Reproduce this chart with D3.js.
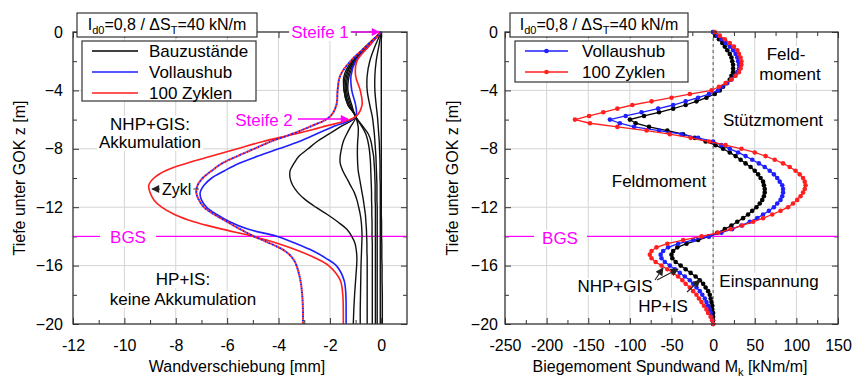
<!DOCTYPE html>
<html>
<head>
<meta charset="utf-8">
<script src="https://cdn.jsdelivr.net/npm/d3@7"></script>
<style>
  body { margin: 0; background: #fff; }
  text { font-family: "Liberation Sans", Arial, sans-serif; fill: #000; }
</style>
</head>
<body>
<svg id="chart" width="854" height="378"></svg>
<script>
'use strict';

// ---- left panel: wall displacement [mm] over depth [m] ----
var zLeft = [0, -1, -2, -3, -4, -5, -5.8, -6.5, -7, -7.5, -8, -8.5, -9, -9.5, -10, -10.5,
  -11, -11.5, -12, -12.5, -13, -13.5, -14, -14.5, -15, -15.5, -16, -17, -18, -19, -20];

var uVollaushub = [0, -0.5, -1.0, -1.18, -1.15, -1.0, -1.0, -1.9, -2.55, -3.2, -4.0, -4.8, -5.55, -6.1, -6.6, -6.9,
  -7.05, -7.0, -6.8, -6.4, -5.9, -5.2, -4.05, -3.3, -2.65, -2.15, -1.75, -1.45, -1.38, -1.37, -1.37];

var uZyklen = [0, -0.5, -0.95, -1.0, -0.82, -0.75, -1.0, -2.3, -3.4, -4.6, -5.6, -6.6, -7.6, -8.4, -8.85, -9.05,
  -9.0, -8.85, -8.55, -8.05, -7.3, -6.2, -5.0, -4.0, -3.2, -2.55, -2.05, -1.6, -1.5, -1.48, -1.48];

// dotted curve (blue and red on top of each other)
var uGestrichelt = [0, -0.6, -1.2, -1.6, -1.7, -1.75, -2.0, -2.8, -3.5, -4.3, -4.95, -5.6, -6.2, -6.6, -6.95, -7.15,
  -7.2, -7.1, -6.9, -6.5, -6.0, -5.5, -4.95, -4.3, -3.75, -3.45, -3.3, -3.15, -3.08, -3.05, -3.05];

var uBauzustaende = [
  [0, 0, 0, 0, 0, 0, 0, 0, 0, 0, 0, 0, 0, 0, 0, 0, 0, 0, 0, 0, 0.01, 0.01, 0.01, 0.02, 0.02, 0.02, 0.03, 0.03, 0.04, 0.04, 0.04],
  [0, -0.1, -0.2, -0.25, -0.25, -0.2, -0.15, -0.12, -0.1, -0.08, -0.07, -0.06, -0.05, -0.05, -0.05, -0.04,
    -0.04, -0.04, -0.04, -0.04, -0.04, -0.04, -0.04, -0.04, -0.04, -0.04, -0.04, -0.04, -0.04, -0.04, -0.04],
  [0, -0.25, -0.45, -0.55, -0.55, -0.45, -0.35, -0.3, -0.27, -0.25, -0.23, -0.21, -0.2, -0.19, -0.18, -0.17,
    -0.17, -0.17, -0.16, -0.16, -0.16, -0.16, -0.16, -0.16, -0.16, -0.16, -0.16, -0.16, -0.16, -0.16, -0.16],
  [0, -0.55, -1.0, -1.25, -1.3, -1.15, -1.0, -0.7, -0.5, -0.4, -0.35, -0.3, -0.28, -0.26, -0.25, -0.24,
    -0.24, -0.24, -0.23, -0.23, -0.23, -0.23, -0.23, -0.23, -0.23, -0.23, -0.23, -0.23, -0.23, -0.23, -0.23],
  [0, -0.55, -1.05, -1.3, -1.35, -1.2, -1.0, -0.75, -0.6, -0.52, -0.47, -0.44, -0.42, -0.41, -0.4, -0.39,
    -0.38, -0.38, -0.37, -0.37, -0.36, -0.36, -0.36, -0.35, -0.35, -0.35, -0.35, -0.35, -0.35, -0.35, -0.35],
  [0, -0.6, -1.1, -1.35, -1.4, -1.25, -1.0, -0.9, -0.9, -0.92, -0.93, -0.93, -0.92, -0.9, -0.85, -0.8,
    -0.75, -0.7, -0.66, -0.62, -0.6, -0.58, -0.57, -0.56, -0.56, -0.55, -0.55, -0.55, -0.55, -0.55, -0.55],
  [0, -0.6, -1.1, -1.4, -1.45, -1.3, -1.0, -1.2, -1.35, -1.48, -1.55, -1.6, -1.6, -1.5, -1.35, -1.2,
    -1.05, -0.95, -0.88, -0.82, -0.78, -0.76, -0.75, -0.76, -0.77, -0.78, -0.79, -0.8, -0.81, -0.82, -0.82],
  [0, -0.6, -1.15, -1.45, -1.45, -1.3, -1.0, -1.6, -2.05, -2.5, -2.85, -3.2, -3.4, -3.55, -3.55, -3.45,
    -3.25, -2.95, -2.55, -2.1, -1.7, -1.35, -1.15, -1.02, -0.97, -0.95, -0.96, -1.0, -1.04, -1.07, -1.09]
];

// ---- right panel: bending moment [kNm/m] over depth [m] ----
var zRight = [0, -0.25, -0.5, -0.75, -1, -1.25, -1.5, -1.75, -2, -2.25, -2.5, -2.75, -3, -3.25, -3.5, -3.75,
  -4, -4.25, -4.5, -4.75, -5, -5.25, -5.5, -5.75, -6, -6.25, -6.5, -6.75, -7, -7.25, -7.5, -7.75,
  -8, -8.25, -8.5, -8.75, -9, -9.25, -9.5, -9.75, -10, -10.25, -10.5, -10.75, -11, -11.25, -11.5, -11.75,
  -12, -12.25, -12.5, -12.75, -13, -13.25, -13.5, -13.75, -14, -14.25, -14.5, -14.75, -15, -15.25, -15.5, -15.75,
  -16, -16.25, -16.5, -16.75, -17, -17.25, -17.5, -17.75, -18, -18.25, -18.5, -18.75, -19, -19.25, -19.5, -19.75, -20];

var mBau = [0, 3, 7, 11, 14, 17, 20, 22, 23, 24, 24, 24, 22, 20, 16, 12,
  8, 2, -8, -20, -33, -48, -65, -83, -100, -93, -77, -55, -36, -22, -9, 3,
  12, 20, 27, 33, 39, 45, 50, 54, 57, 60, 61, 62, 62, 61, 59, 56,
  52, 47, 42, 36, 29, 22, 14, 5, -5, -18, -32, -43, -48, -50, -49, -45,
  -39, -33, -27, -21, -16, -12, -9, -6, -4, -3, -2, -1, -1, 0, 0, 0, 0];

var mVollaushub = [0, 5, 10, 15, 20, 24, 27, 29, 30, 31, 31, 29, 26, 22, 17, 11,
  6, -5, -18, -33, -48, -66, -86, -105, -124, -112, -95, -65, -38, -18, 0, 10,
  20, 30, 39, 47, 55, 62, 68, 73, 77, 80, 83, 84, 84, 83, 81, 77,
  73, 67, 60, 53, 44, 34, 23, 10, -5, -24, -42, -54, -60, -63, -62, -58,
  -52, -46, -40, -34, -28, -24, -20, -16, -13, -10, -8, -6, -4, -3, -2, -1, 0];

var mZyklen = [2, 8, 14, 20, 25, 29, 31, 33, 34, 34, 33, 31, 27, 22, 15, 7,
  -2, -28, -50, -74, -97, -115, -132, -149, -166, -148, -115, -80, -52, -27, -5, 15,
  34, 50, 63, 74, 84, 92, 99, 104, 108, 110, 111, 110, 108, 105, 101, 96,
  90, 81, 71, 60, 48, 35, 21, 6, -14, -36, -55, -68, -74, -76, -74, -69,
  -62, -55, -48, -42, -37, -33, -28, -24, -20, -17, -14, -11, -8, -6, -3, -1, 0];

var ticksLeftX = [-12, -10, -8, -6, -4, -2, 0];
var ticksRightX = [-250, -200, -150, -100, -50, 0, 50, 100, 150];
var ticksZ = [0, -4, -8, -12, -16, -20];

var BLUE = '#1f1fff', RED = '#ff1f1f', MAGENTA = '#ff00ff', GRID = '#d4d4d4';

var svg = d3.select('#chart');
var top0 = 32, bottom0 = 324;

var yZ = d3.scaleLinear().domain([0, -20]).range([top0, bottom0]);
var xL = d3.scaleLinear().domain([-12, 1]).range([73, 407]);
var xR = d3.scaleLinear().domain([-250, 150]).range([505, 838]);

var defs = svg.append('defs');
function addMarker(id, color) {
    defs.append('marker')
        .attr('id', id)
        .attr('viewBox', '0 0 10 10')
        .attr('refX', 9).attr('refY', 5)
        .attr('markerWidth', 9).attr('markerHeight', 8)
        .attr('markerUnits', 'userSpaceOnUse')
        .attr('orient', 'auto')
        .append('path')
        .attr('d', 'M0,0 L10,5 L0,10 z')
        .attr('fill', color);
}
addMarker('headM', MAGENTA);
addMarker('headK', '#222');

var drawFrame = function (x, majorX, minorX, labelPad) {
    var g = svg.append('g');
    var x0 = x.range()[0], x1 = x.range()[1];

    // grid
    g.selectAll('line.gx').data(majorX.filter(function (d) { return x(d) > x0 + 1 && x(d) < x1 - 1; }))
        .enter().append('line')
        .attr('x1', function (d) { return x(d); }).attr('x2', function (d) { return x(d); })
        .attr('y1', top0).attr('y2', bottom0)
        .attr('stroke', GRID).attr('stroke-width', 1);
    g.selectAll('line.gy').data([-4, -8, -12, -16])
        .enter().append('line')
        .attr('x1', x0).attr('x2', x1)
        .attr('y1', function (d) { return yZ(d); }).attr('y2', function (d) { return yZ(d); })
        .attr('stroke', GRID).attr('stroke-width', 1);

    var ax = svg.append('g').attr('class', 'axes');
    var minorZ = [-2, -6, -10, -14, -18];

    ax.append('g').attr('transform', 'translate(0,' + bottom0 + ')')
        .call(d3.axisBottom(x).tickValues(majorX).tickSizeInner(-6).tickSizeOuter(0).tickPadding(16)
            .tickFormat(function (d) { return d; }));
    ax.append('g').attr('transform', 'translate(0,' + bottom0 + ')')
        .call(d3.axisBottom(x).tickValues(minorX).tickSizeInner(-4).tickSizeOuter(0).tickFormat(''));
    ax.append('g').attr('transform', 'translate(0,' + top0 + ')')
        .call(d3.axisTop(x).tickValues(majorX).tickSizeInner(-6).tickSizeOuter(0).tickFormat(''));
    ax.append('g').attr('transform', 'translate(0,' + top0 + ')')
        .call(d3.axisTop(x).tickValues(minorX).tickSizeInner(-4).tickSizeOuter(0).tickFormat(''));

    ax.append('g').attr('transform', 'translate(' + x0 + ',0)')
        .call(d3.axisLeft(yZ).tickValues(ticksZ).tickSizeInner(-6).tickSizeOuter(0).tickPadding(labelPad));
    ax.append('g').attr('transform', 'translate(' + x0 + ',0)')
        .call(d3.axisLeft(yZ).tickValues(minorZ).tickSizeInner(-4).tickSizeOuter(0).tickFormat(''));
    ax.append('g').attr('transform', 'translate(' + x1 + ',0)')
        .call(d3.axisRight(yZ).tickValues(ticksZ).tickSizeInner(-6).tickSizeOuter(0).tickFormat(''));
    ax.append('g').attr('transform', 'translate(' + x1 + ',0)')
        .call(d3.axisRight(yZ).tickValues(minorZ).tickSizeInner(-4).tickSizeOuter(0).tickFormat(''));

    ax.selectAll('.domain').remove();
    ax.selectAll('.tick line').attr('stroke', '#333');
    ax.selectAll('.tick text').style('font-size', '16px').style('font-family', '"Liberation Sans", Arial, sans-serif').attr('fill', '#000');

    return ax;
};

var finishFrame = function (x) {
    var x0 = x.range()[0], x1 = x.range()[1];
    svg.append('rect')
        .attr('x', x0).attr('y', top0)
        .attr('width', x1 - x0).attr('height', bottom0 - top0)
        .attr('fill', 'none').attr('stroke', '#333').attr('stroke-width', 1.3);
};

// ---------- left panel ----------
var axL = drawFrame(xL, ticksLeftX, [-11, -9, -7, -5, -3, -1], 10);

var bgsLeft = svg.append('g');
bgsLeft.append('line').attr('x1', xL(-12)).attr('x2', 100).attr('y1', yZ(-14)).attr('y2', yZ(-14))
    .attr('stroke', MAGENTA).attr('stroke-width', 1.2);
bgsLeft.append('line').attr('x1', 156).attr('x2', xL(1)).attr('y1', yZ(-14)).attr('y2', yZ(-14))
    .attr('stroke', MAGENTA).attr('stroke-width', 1.2);

var lineL = d3.line()
    .x(function (d) { return xL(d[0]); })
    .y(function (d) { return yZ(d[1]); })
    .curve(d3.curveCatmullRom.alpha(0.5));

var pairs = function (u, z) { return u.map(function (v, i) { return [v, z[i]]; }); };

svg.append('g').selectAll('path').data(uBauzustaende).enter().append('path')
    .attr('d', function (d) { return lineL(pairs(d, zLeft)); })
    .attr('fill', 'none').attr('stroke', '#111').attr('stroke-width', 1.4);

svg.append('path').attr('d', lineL(pairs(uVollaushub, zLeft)))
    .attr('fill', 'none').attr('stroke', BLUE).attr('stroke-width', 1.6);
svg.append('path').attr('d', lineL(pairs(uZyklen, zLeft)))
    .attr('fill', 'none').attr('stroke', RED).attr('stroke-width', 1.6);
svg.append('path').attr('d', lineL(pairs(uGestrichelt, zLeft)))
    .attr('fill', 'none').attr('stroke', BLUE).attr('stroke-width', 2)
    .attr('stroke-dasharray', '2,2');
svg.append('path').attr('d', lineL(pairs(uGestrichelt, zLeft)))
    .attr('fill', 'none').attr('stroke', RED).attr('stroke-width', 2)
    .attr('stroke-dasharray', '2,2').attr('stroke-dashoffset', 2);

finishFrame(xL);

// ---------- right panel ----------
var axR = drawFrame(xR, ticksRightX, [-225, -175, -125, -75, -25, 25, 75, 125], 7);

svg.append('line').attr('x1', xR(0)).attr('x2', xR(0)).attr('y1', top0).attr('y2', bottom0)
    .attr('stroke', '#555').attr('stroke-width', 1).attr('stroke-dasharray', '3,3');

svg.append('line').attr('x1', xR(-250)).attr('x2', 534).attr('y1', yZ(-14)).attr('y2', yZ(-14))
    .attr('stroke', MAGENTA).attr('stroke-width', 1.2);
svg.append('line').attr('x1', 587).attr('x2', xR(150)).attr('y1', yZ(-14)).attr('y2', yZ(-14))
    .attr('stroke', MAGENTA).attr('stroke-width', 1.2);

var lineR = d3.line()
    .x(function (d) { return xR(d[0]); })
    .y(function (d) { return yZ(d[1]); });

var seriesR = [
    { name: 'Bauzustand', color: '#000', values: mBau },
    { name: 'Vollaushub', color: BLUE, values: mVollaushub },
    { name: '100 Zyklen', color: RED, values: mZyklen }
];

seriesR.forEach(function (s) {
    var pts = pairs(s.values, zRight);
    var g = svg.append('g');
    g.append('path').attr('d', lineR(pts))
        .attr('fill', 'none').attr('stroke', s.color).attr('stroke-width', 1.3);
    g.selectAll('circle').data(pts).enter().append('circle')
        .attr('cx', function (d) { return xR(d[0]); })
        .attr('cy', function (d) { return yZ(d[1]); })
        .attr('r', 2.3)
        .attr('fill', s.color);
});

finishFrame(xR);

// ---------- texts ----------
var txt = function (x, y, s, opts) {
    opts = opts || {};
    var t = svg.append('text')
        .attr('x', x).attr('y', y)
        .attr('text-anchor', opts.anchor || 'middle')
        .style('font-size', (opts.size || 16) + 'px')
        .style('fill', opts.color || '#000')
        .text(s);
    if (opts.bg) {
        // white box behind the label so grid and frame lines stop at the text
        var bb = t.node().getBBox();
        svg.insert('rect', function () { return t.node(); })
            .attr('x', bb.x - 2).attr('y', bb.y + 1)
            .attr('width', bb.width + 4).attr('height', bb.height - 2)
            .attr('fill', '#fff');
    }
    return t;
};

// axis titles
txt(237, 372, 'Wandverschiebung [mm]');
var tR = txt(670, 372, 'Biegemoment Spundwand M');
tR.append('tspan').attr('dy', 4).style('font-size', '11px').text('k');
tR.append('tspan').attr('dy', -4).text(' [kNm/m]');

[19, 452].forEach(function (xx) {
    svg.append('text')
        .attr('transform', 'translate(' + (xx + 6) + ',178) rotate(-90)')
        .attr('text-anchor', 'middle')
        .style('font-size', '16px')
        .text('Tiefe unter GOK z [m]');
});

// title boxes
var titleBox = function (x0, x1) {
    svg.append('rect').attr('x', x0).attr('y', 13).attr('width', x1 - x0).attr('height', 24)
        .attr('fill', '#fff').attr('stroke', '#333').attr('stroke-width', 1.2);
    var t = svg.append('text').attr('x', (x0 + x1) / 2).attr('y', 30)
        .attr('text-anchor', 'middle').style('font-size', '16px');
    t.append('tspan').text('I');
    t.append('tspan').attr('dy', 4).style('font-size', '11px').text('d0');
    t.append('tspan').attr('dy', -4).text('=0,8 / ΔS');
    t.append('tspan').attr('dy', 4).style('font-size', '11px').text('T');
    t.append('tspan').attr('dy', -4).text('=40 kN/m');
};
titleBox(77, 257);
titleBox(510, 688);

// legend left
svg.append('rect').attr('x', 82).attr('y', 41).attr('width', 174).attr('height', 60)
    .attr('fill', '#fff').attr('stroke', '#333').attr('stroke-width', 1.2);
[['Bauzustände', '#000', 51], ['Vollaushub', BLUE, 72], ['100 Zyklen', RED, 93]].forEach(function (d) {
    svg.append('line').attr('x1', 92).attr('x2', 138).attr('y1', d[2]).attr('y2', d[2])
        .attr('stroke', d[1]).attr('stroke-width', 1.5);
    txt(149, d[2] + 6, d[0], { anchor: 'start', size: 17 });
});

// legend right
svg.append('rect').attr('x', 515).attr('y', 41).attr('width', 173).attr('height', 41)
    .attr('fill', '#fff').attr('stroke', '#333').attr('stroke-width', 1.2);
[['Vollaushub', BLUE, 51], ['100 Zyklen', RED, 72]].forEach(function (d) {
    svg.append('line').attr('x1', 525).attr('x2', 568).attr('y1', d[2]).attr('y2', d[2])
        .attr('stroke', d[1]).attr('stroke-width', 1.3);
    svg.append('circle').attr('cx', 546.5).attr('cy', d[2]).attr('r', 2.3).attr('fill', d[1]);
    txt(582, d[2] + 6, d[0], { anchor: 'start', size: 17 });
});

// left annotations
txt(150, 130, 'NHP+GIS:', { size: 17, bg: true });
txt(150, 148, 'Akkumulation', { size: 17, bg: true });
txt(183, 285, 'HP+IS:', { size: 17, bg: true });
txt(183, 305, 'keine Akkumulation', { size: 17, bg: true });
txt(128, 243, 'BGS', { size: 17, color: MAGENTA, bg: true });
txt(560, 244, 'BGS', { size: 17, color: MAGENTA, bg: true });

txt(320, 38, 'Steife 1', { size: 17, color: MAGENTA, bg: true });
svg.append('line').attr('x1', 352).attr('x2', 379).attr('y1', 32).attr('y2', 32)
    .attr('stroke', MAGENTA).attr('stroke-width', 1.3).attr('marker-end', 'url(#headM)');
txt(264, 126, 'Steife 2', { size: 17, color: MAGENTA, bg: true });
svg.append('line').attr('x1', 298).attr('x2', 348).attr('y1', 119).attr('y2', 119)
    .attr('stroke', MAGENTA).attr('stroke-width', 1.3).attr('marker-end', 'url(#headM)');

// Zykl. arrow
svg.append('line').attr('x1', 199).attr('x2', 152).attr('y1', 189).attr('y2', 189)
    .attr('stroke', '#444').attr('stroke-width', 1).attr('marker-end', 'url(#headK)');
txt(162, 195, 'Zykl', { anchor: 'start', size: 16, bg: true });

// right annotations
txt(786, 60, 'Feld-', { size: 17, bg: true });
txt(790, 80, 'moment', { size: 17, bg: true });
txt(773, 126, 'Stützmoment', { size: 17, bg: true });
txt(659, 187, 'Feldmoment', { size: 17, bg: true });
txt(769, 287, 'Einspannung', { size: 17, bg: true });
txt(615, 292, 'NHP+GIS', { size: 17, bg: true });
txt(663, 312, 'HP+IS', { size: 17, bg: true });

[[655, 280, 663, 268], [657, 280, 678, 269], [687, 292, 700, 280]].forEach(function (a) {
    svg.append('line').attr('x1', a[0]).attr('y1', a[1]).attr('x2', a[2]).attr('y2', a[3])
        .attr('stroke', '#222').attr('stroke-width', 1.1).attr('marker-end', 'url(#headK)');
});
</script>
</body>
</html>
